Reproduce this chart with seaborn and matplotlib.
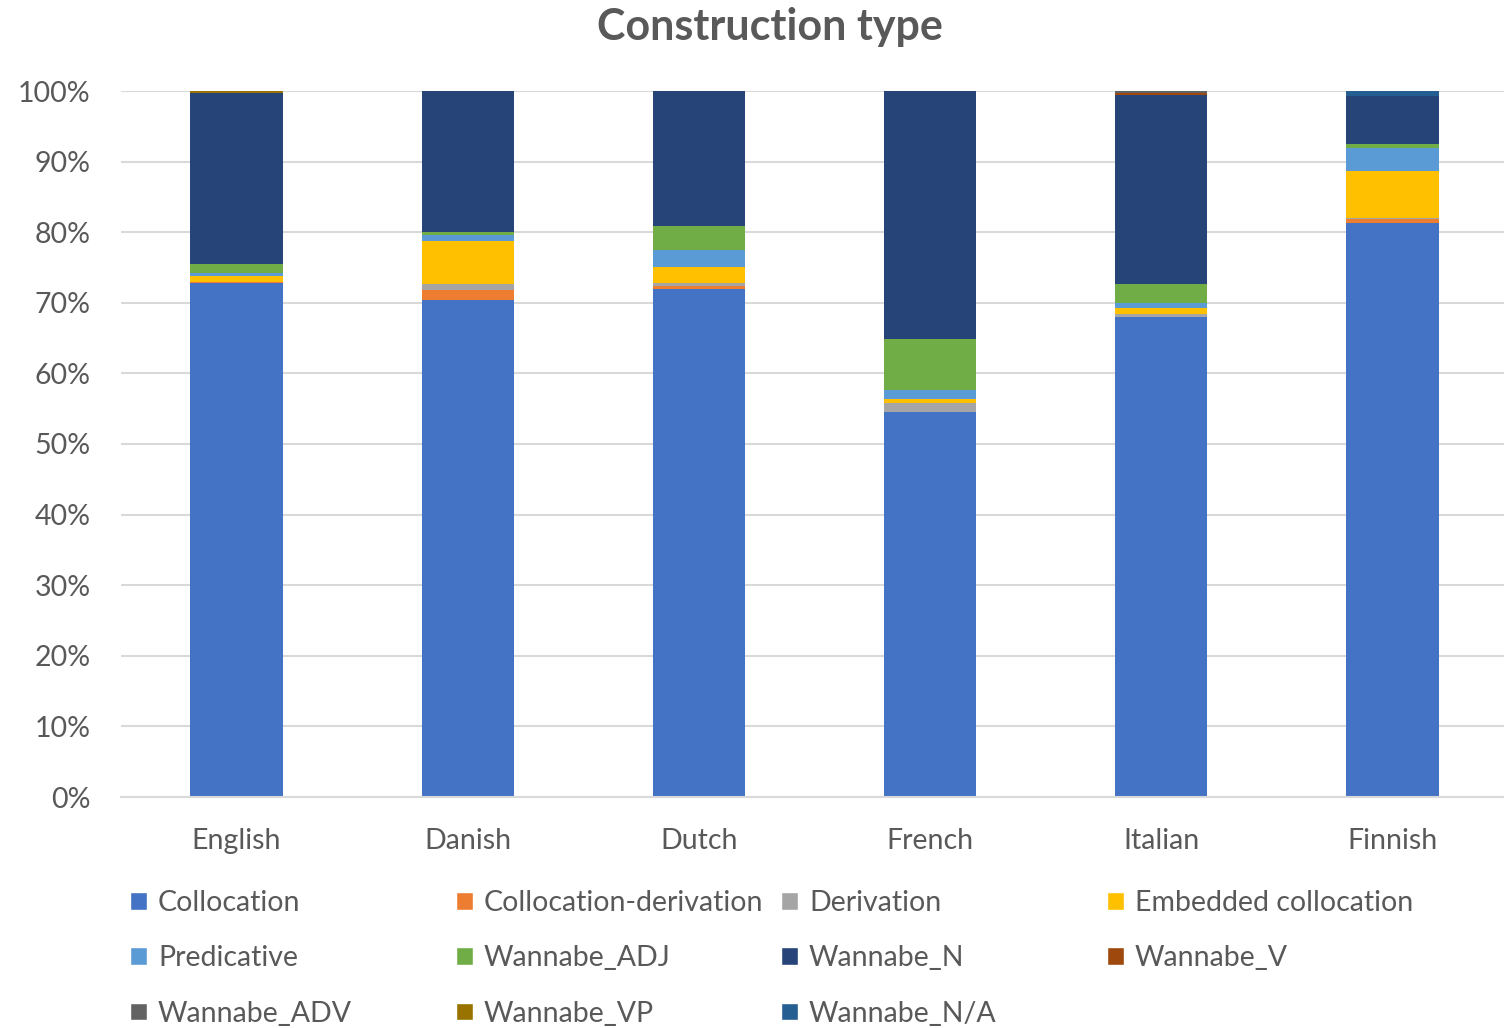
import pandas as pd
import matplotlib
matplotlib.use("Agg")
import matplotlib.pyplot as plt
import seaborn as sns
from matplotlib.patches import Patch
from matplotlib.ticker import PercentFormatter

# Datos (porcentaje por idioma)
idiomas = ['English', 'Danish', 'Dutch', 'French', 'Italian', 'Finnish']
tipos = ['Collocation', 'Collocation-derivation', 'Derivation', 'Embedded collocation',
         'Predicative', 'Wannabe_ADJ', 'Wannabe_N', 'Wannabe_V',
         'Wannabe_ADV', 'Wannabe_VP', 'Wannabe_N/A']

collocation = [72.8, 70.35, 71.95, 54.6, 67.95, 81.35]
collocation_derivation = [0.2, 1.4, 0.48, 0.0, 0.0, 0.48]
derivation = [0.0, 0.9, 0.33, 1.18, 0.42, 0.22]
embedded_collocation = [0.85, 6.05, 2.3, 0.6, 0.85, 6.6]
predicative = [0.35, 0.95, 2.35, 1.23, 0.8, 3.3]
wannabe_adj = [1.25, 0.4, 3.4, 7.2, 2.64, 0.52]
wannabe_n = [24.25, 19.95, 19.19, 35.19, 26.71, 6.85]
wannabe_v = [0.0, 0.0, 0.0, 0.0, 0.38, 0.0]
wannabe_adv = [0.0, 0.0, 0.0, 0.0, 0.25, 0.0]
wannabe_vp = [0.3, 0.0, 0.0, 0.0, 0.0, 0.0]
wannabe_na = [0.0, 0.0, 0.0, 0.0, 0.0, 0.66]

colores = ['#4472C4', '#ED7D31', '#A5A5A5', '#FFC000', '#5B9BD5', '#70AD47',
           '#264478', '#9E480E', '#636363', '#997300', '#255E91']

valores = [collocation, collocation_derivation, derivation, embedded_collocation,
           predicative, wannabe_adj, wannabe_n, wannabe_v, wannabe_adv, wannabe_vp, wannabe_na]

# Tabla larga para seaborn
filas = []
for tipo, serie in zip(tipos, valores):
    for idioma, v in zip(idiomas, serie):
        filas.append({'idioma': idioma, 'tipo': tipo, 'valor': v})
df = pd.DataFrame(filas)
df['idioma'] = pd.Categorical(df['idioma'], categories=idiomas, ordered=True)

sns.set_style('white')
plt.rcParams['font.family'] = ['Lato', 'DejaVu Sans']

fig = plt.figure(figsize=(15.04, 10.28), dpi=100)
ax = fig.add_axes([121 / 1504, 1 - 797 / 1028, 1387 / 1504, (797 - 91) / 1028])

# histplot apila el primer nivel arriba, así que invertimos el orden
sns.histplot(data=df, x='idioma', hue='tipo', weights='valor', multiple='stack',
             discrete=True, shrink=0.4, hue_order=tipos[::-1],
             palette=dict(zip(tipos, colores)), alpha=1, linewidth=0,
             legend=False, ax=ax)

ax.set_xlim(-0.5, 5.5)
ax.set_ylim(0, 100)
ax.set_yticks(range(0, 101, 10))
ax.yaxis.set_major_formatter(PercentFormatter(100, decimals=0))
ax.set_xticks(range(len(idiomas)))
ax.set_xticklabels(idiomas)
ax.set_xlabel('')
ax.set_ylabel('')
ax.grid(axis='y', color='#D9D9D9', linewidth=1.5)
ax.set_axisbelow(True)
for s in ['top', 'right', 'left']:
    ax.spines[s].set_visible(False)
ax.spines['bottom'].set_color('#D9D9D9')
ax.spines['bottom'].set_linewidth(1.5)
ax.tick_params(axis='both', length=0, labelsize=20.5, labelcolor='#595959')
ax.tick_params(axis='x', pad=22)
ax.tick_params(axis='y', pad=22)

fig.text(0.512, 1 - 27 / 1028, 'Construction type', ha='center', va='center',
         fontsize=31, fontweight='bold', color='#595959')

# Leyenda en 4 columnas con posiciones fijas
handles = [Patch(facecolor=c, label=t) for t, c in zip(tipos, colores)]
col_x = [130, 456, 781, 1107]
for j, x in enumerate(col_x):
    leg = fig.legend(handles=handles[j::4], loc='upper left',
                     bbox_to_anchor=(x / 1504, 1 - 890 / 1028), frameon=False,
                     fontsize=20.5, labelcolor='#595959', borderpad=0, borderaxespad=0,
                     handlelength=0.58, handleheight=0.58, handletextpad=0.4,
                     labelspacing=1.03)

fig.savefig('out.png', dpi=100)
